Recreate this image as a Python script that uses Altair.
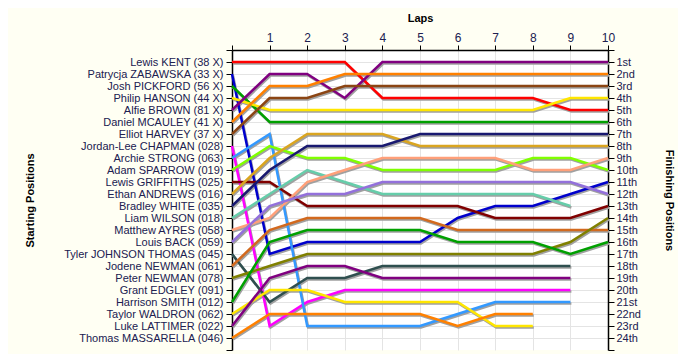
import json
import altair as alt
import pandas as pd

# ---- data ----
drivers = [
    "Lewis KENT (38 X)", "Patrycja ZABAWSKA (33 X)", "Josh PICKFORD (56 X)",
    "Philip HANSON (44 X)", "Alfie BROWN (81 X)", "Daniel MCAULEY (41 X)",
    "Elliot HARVEY (37 X)", "Jordan-Lee CHAPMAN (028)", "Archie STRONG (063)",
    "Adam SPARROW (019)", "Lewis GRIFFITHS (025)", "Ethan ANDREWS (016)",
    "Bradley WHITE (035)", "Liam WILSON (018)", "Matthew AYRES (058)",
    "Louis BACK (059)", "Tyler JOHNSON THOMAS (045)", "Jodene NEWMAN (061)",
    "Peter NEWMAN (078)", "Grant EDGLEY (091)", "Harrison SMITH (012)",
    "Taylor WALDRON (062)", "Luke LATTIMER (022)", "Thomas MASSARELLA (046)",
]

colors = [
    "#ff0000", "#0000cc", "#00a000", "#ffe600", "#800080", "#ff8000",
    "#8b4513", "#ff00ff", "#3399ff", "#80ff00", "#800000", "#daa520",
    "#191970", "#66cdaa", "#ffa07a", "#9370db", "#2f4f4f", "#d2691e",
    "#808000", "#0000ff", "#00a000", "#ffe600", "#800080", "#ff8000",
]

# position after each lap (index 0 = start)
positions = [
    [1, 1, 1, 1, 4, 4, 4, 4, 4, 5, 5],
    [2, 17, 16, 16, 16, 16, 14, 13, 13, 12, 11],
    [3, 6, 6, 6, 6, 6, 6, 6, 6, 6, 6],
    [4, 5, 5, 5, 5, 5, 5, 5, 5, 4, 4],
    [5, 2, 2, 4, 1, 1, 1, 1, 1, 1, 1],
    [6, 3, 3, 2, 2, 2, 2, 2, 2, 2, 2],
    [7, 4, 4, 3, 3, 3, 3, 3, 3, 3, 3],
    [8, 23, 21, 20, 20, 20, 20, 20, 20, 20],
    [9, 7, 23, 23, 23, 23, 22, 21, 21, 21],
    [10, 8, 9, 9, 10, 10, 10, 10, 9, 9, 10],
    [11, 11, 13, 13, 13, 13, 13, 14, 14, 14, 13],
    [12, 9, 7, 7, 7, 8, 8, 8, 8, 8, 8],
    [13, 10, 8, 8, 8, 7, 7, 7, 7, 7, 7],
    [14, 12, 10, 11, 12, 12, 12, 12, 12, 13],
    [15, 14, 11, 10, 9, 9, 9, 9, 10, 10, 9],
    [16, 13, 12, 12, 11, 11, 11, 11, 11, 11, 12],
    [17, 21, 19, 19, 18, 18, 18, 18, 18, 18],
    [18, 15, 14, 14, 14, 14, 15, 15, 15, 15, 15],
    [19, 18, 17, 17, 17, 17, 17, 17, 17, 16, 14],
    [],
    [21, 16, 15, 15, 15, 15, 16, 16, 16, 17, 16],
    [22, 20, 20, 21, 21, 21, 21, 23, 23],
    [23, 19, 18, 18, 19, 19, 19, 19, 19, 19],
    [24, 22, 22, 22, 22, 22, 23, 22, 22],
]

finish_labels = [
    "1st", "2nd", "3rd", "4th", "5th", "6th", "7th", "8th", "9th", "10th",
    "11th", "12th", "13th", "14th", "15th", "16th", "17th", "18th", "19th",
    "20th", "21st", "22nd", "23rd", "24th",
]

lap_ticks = list(range(0, 11))
pos_ticks = list(range(0, 26))

rows = []
for i, (name, seq) in enumerate(zip(drivers, positions)):
    for lap, pos in enumerate(seq):
        rows.append({"driver": name, "order": i, "lap": lap, "pos": pos})
df = pd.DataFrame(rows)

TEXT = "#202050"
FONT = "Liberation Sans"

x_scale = alt.Scale(domain=[0, 10], nice=False, zero=False)
y_scale = alt.Scale(domain=[0, 25], reverse=True, nice=False, zero=False)

grid_cond = {"condition": {"test": "datum.value == 0 || datum.value == 25", "value": 0}, "value": 1}

x_axis = alt.Axis(
    orient="top", values=lap_ticks, title="Laps",
    labelExpr="datum.value == 0 ? '' : datum.label",
    labelFlush=False, labelOverlap=False, labelFont=FONT, labelFontSize=12,
    labelColor=TEXT, labelPadding=1, tickSize=5, tickColor="black",
    domainColor="black", domainWidth=1.5, grid=True, gridColor="#e4e4e4",
    titleFont=FONT, titleFontSize=11, titleFontWeight="bold", titleColor="black",
    titleX=188, titleY=-32, titleAlign="center", titleBaseline="middle",
)

left_axis = alt.Axis(
    orient="left", values=pos_ticks, title="Starting Positions",
    labelExpr="datum.value >= 1 && datum.value <= 24 ? " + json.dumps(drivers) + "[datum.value - 1] : ''",
    labelFlush=False, labelOverlap=False, labelFont=FONT, labelFontSize=11,
    labelColor=TEXT, labelPadding=3, tickSize=6, tickColor="black",
    domainColor="black", domainWidth=1.5, grid=True, gridColor="#e4e4e4",
    gridOpacity=grid_cond,
    titleFont=FONT, titleFontSize=11, titleFontWeight="bold", titleColor="black",
    titleAngle=270, titleX=-202, titleY=150, titleAlign="center", titleBaseline="middle",
)

right_axis = alt.Axis(
    orient="right", values=pos_ticks, title="Finishing Positions",
    labelExpr="datum.value >= 1 && datum.value <= 24 ? " + json.dumps(finish_labels) + "[datum.value - 1] : ''",
    labelFlush=False, labelOverlap=False, labelFont=FONT, labelFontSize=11,
    labelColor=TEXT, labelPadding=2, tickSize=6, tickColor="black",
    domainColor="black", domainWidth=1.5, grid=False,
    titleFont=FONT, titleFontSize=11, titleFontWeight="bold", titleColor="black",
    titleAngle=90, titleX=60, titleY=150, titleAlign="center", titleBaseline="middle",
)

base = alt.Chart(df)

shadow = base.mark_line(color="#a0a0a0", strokeWidth=2.5, xOffset=1, yOffset=1.5).encode(
    x=alt.X("lap:Q", scale=x_scale, axis=x_axis),
    y=alt.Y("pos:Q", scale=y_scale, axis=left_axis),
    detail="driver:N",
    order="lap:Q",
)

lines = base.mark_line(strokeWidth=2.5).encode(
    x=alt.X("lap:Q", scale=x_scale, axis=None),
    y=alt.Y("pos:Q", scale=y_scale, axis=right_axis),
    color=alt.Color("driver:N", scale=alt.Scale(domain=drivers, range=colors), legend=None),
    order="lap:Q",
)

chart = (
    alt.layer(shadow, lines)
    .resolve_axis(y="independent", x="independent")
    .properties(
        width=376, height=300,
        autosize=alt.AutoSizeParams(type="none"),
        padding={"left": 224, "top": 42, "right": 70, "bottom": 4},
        background="#fffff3",
    )
    .configure_view(fill="white", stroke=None)
)

chart.save("out.html", embed_options={"renderer": "svg", "actions": False})
